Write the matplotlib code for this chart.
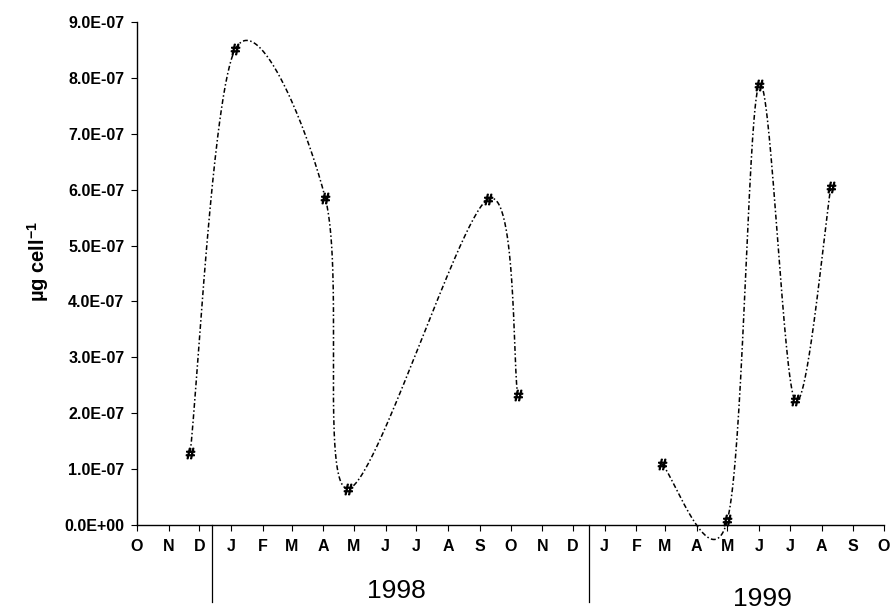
import numpy as np
import matplotlib
matplotlib.use("Agg")
import matplotlib.pyplot as plt
import matplotlib.dates as mdates
import matplotlib.transforms as mtransforms
from matplotlib.ticker import FixedLocator, FuncFormatter

# ---- data ----
dates_1998 = ["1997-11-22", "1998-01-05", "1998-04-03", "1998-04-25", "1998-09-09", "1998-10-08"]
values_1998 = [1.29e-7, 8.51e-7, 5.85e-7, 0.65e-7, 5.83e-7, 2.33e-7]
dates_1999 = ["1999-02-26", "1999-05-01", "1999-06-01", "1999-07-06", "1999-08-10"]
values_1999 = [1.09e-7, 0.09e-7, 7.88e-7, 2.23e-7, 6.04e-7]
month_labels = ["O", "N", "D", "J", "F", "M", "A", "M", "J", "J", "A", "S",
                "O", "N", "D", "J", "F", "M", "A", "M", "J", "J", "A", "S", "O"]
year_labels = ["1998", "1999"]
year_divider_dates = ["1997-12-13", "1998-12-17"]
y_ticks = [0, 1e-7, 2e-7, 3e-7, 4e-7, 5e-7, 6e-7, 7e-7, 8e-7, 9e-7]

plt.rcParams["font.family"] = ["Liberation Sans", "DejaVu Sans"]
plt.rcParams["mathtext.fontset"] = "custom"
plt.rcParams["mathtext.bf"] = "Liberation Sans:bold"
plt.rcParams["mathtext.rm"] = "Liberation Sans"


def to_num(ds):
    return mdates.date2num(np.array(ds, dtype="datetime64[D]"))


def smooth(xs, ys, n=60):
    P = np.column_stack([xs, ys]).astype(float)
    pts = np.vstack([P[0], P, P[-1]])
    out = []
    t = np.linspace(0, 1, n)[:, None]
    for i in range(1, len(pts) - 2):
        p0, p1, p2, p3 = pts[i - 1], pts[i], pts[i + 1], pts[i + 2]
        c1 = p1 + (p2 - p0) / 6.0
        c2 = p2 - (p3 - p1) / 6.0
        seg = (1 - t) ** 3 * p1 + 3 * (1 - t) ** 2 * t * c1 + 3 * (1 - t) * t ** 2 * c2 + t ** 3 * p2
        out.append(seg)
    return np.vstack(out)


W, H = 894, 612
fig = plt.figure(figsize=(W / 100, H / 100), dpi=100)
left, right, top, bottom = 137, 884, 22, 525
ax = fig.add_axes([left / W, 1 - bottom / H, (right - left) / W, (bottom - top) / H])

ls = (0, (3.2, 1.6, 1.0, 1.6))
for ds, vs in [(dates_1998, values_1998), (dates_1999, values_1999)]:
    xs = to_num(ds)
    ys = np.array(vs) * 1e7
    curve = smooth(xs, ys)
    ax.plot(curve[:, 0], curve[:, 1] * 1e-7, color="black", lw=1.1, linestyle=ls, clip_on=False, zorder=2)
    ax.plot(xs, np.array(vs), linestyle="none", marker="$\\#$", ms=7.5, color="black", clip_on=False, zorder=3)

x0 = mdates.date2num(np.datetime64("1997-10-01"))
x1 = mdates.date2num(np.datetime64("1999-10-01"))
ax.set_xlim(x0, x1)
ax.set_ylim(0, 9e-7)

month_starts = mdates.date2num(np.arange(np.datetime64("1997-10"), np.datetime64("1999-11"),
                                         np.timedelta64(1, "M")).astype("datetime64[D]"))
ax.xaxis.set_major_locator(FixedLocator(month_starts))
ax.set_xticklabels(month_labels)
ax.yaxis.set_major_locator(FixedLocator(y_ticks))
ax.yaxis.set_major_formatter(FuncFormatter(lambda v, p: "%.1E" % v))

for s in ["top", "right"]:
    ax.spines[s].set_visible(False)
for s in ["left", "bottom"]:
    ax.spines[s].set_linewidth(1.0)

ax.tick_params(axis="x", direction="out", length=4, width=0.8, labelsize=11.5, pad=6)
ax.tick_params(axis="y", direction="out", length=4, width=0.8, labelsize=11.5, pad=5)
for lab in ax.get_xticklabels() + ax.get_yticklabels():
    lab.set_fontweight("bold")

trans = mtransforms.blended_transform_factory(ax.transData, ax.transAxes)
for d in year_divider_dates:
    xd = mdates.date2num(np.datetime64(d))
    ax.plot([xd, xd], [0, -(602 - bottom) / (bottom - top)], transform=trans,
            color="black", lw=0.9, clip_on=False)

fig.text(396 / W, 1 - 591 / H, year_labels[0], ha="center", va="center", fontsize=19)
fig.text(762 / W, 1 - 599 / H, year_labels[1], ha="center", va="center", fontsize=19)

fig.text(38 / W, 1 - 262 / H, "µg cell$^{\\mathbf{-1}}$", rotation=90, ha="center", va="center",
         fontsize=14.5, fontweight="bold")

fig.savefig("out.png", dpi=100)
